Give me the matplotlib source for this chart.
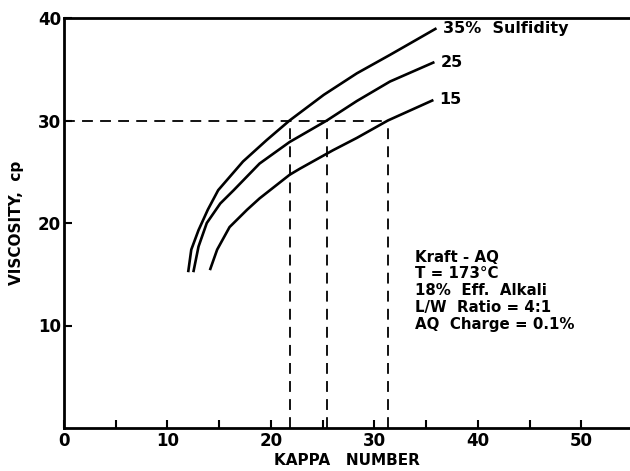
import matplotlib
matplotlib.use("Agg")
import matplotlib.pyplot as plt
from matplotlib.ticker import MultipleLocator

# Data
kappa_35 = [12.0, 12.3, 13.0, 13.9, 14.9, 17.3, 19.6, 21.8, 25.1, 28.3, 31.5, 34.1, 36.0]
visc_35 = [15.2, 17.4, 19.3, 21.3, 23.2, 26.0, 28.1, 30.0, 32.5, 34.6, 36.4, 37.9, 39.0]

kappa_25 = [12.5, 13.0, 13.8, 15.1, 16.4, 18.9, 21.8, 25.4, 28.3, 31.5, 35.8]
visc_25 = [15.2, 17.7, 20.0, 21.9, 23.2, 25.8, 27.9, 30.0, 31.9, 33.8, 35.7]

kappa_15 = [14.1, 14.8, 16.0, 17.7, 18.9, 21.8, 22.8, 26.0, 28.3, 31.3, 35.7]
visc_15 = [15.4, 17.4, 19.6, 21.3, 22.4, 24.7, 25.3, 27.1, 28.3, 30.0, 32.0]

curve_labels = ["35%  Sulfidity", "25", "15"]
target_viscosity = 30
target_kappas = [21.8, 25.4, 31.3]

x_ticks = [0, 10, 20, 30, 40, 50]
y_ticks = [10, 20, 30, 40]

conditions = ["Kraft - AQ", "T = 173°C", "18%  Eff.  Alkali",
              "L/W  Ratio = 4:1", "AQ  Charge = 0.1%"]

fig = plt.figure(figsize=(6.3, 4.71), dpi=100)
ax = fig.add_axes([64/630, 43/471, 1 - 64/630, (428-18)/471])
ax.set_xlim(0, 54.7)
ax.set_ylim(0, 40)

for xs, ys in [(kappa_35, visc_35), (kappa_25, visc_25), (kappa_15, visc_15)]:
    ax.plot(xs, ys, color="black", lw=1.9, solid_capstyle="butt",
            solid_joinstyle="round")

# dashed guide lines
ax.plot([0, max(target_kappas)], [target_viscosity]*2, color="black", lw=1.3,
        dashes=(6, 4))
for k in target_kappas:
    ax.plot([k, k], [0, target_viscosity], color="black", lw=1.3, dashes=(6, 4))

# curve labels
for lab, xs, ys in zip(curve_labels, [kappa_35, kappa_25, kappa_15],
                       [visc_35, visc_25, visc_15]):
    ax.text(xs[-1] + 0.6, ys[-1], lab, fontsize=11.5, fontweight="bold",
            ha="left", va="center")

ax.text(0.62, 0.435, "\n".join(conditions), transform=ax.transAxes,
        fontsize=10.8, fontweight="bold", ha="left", va="top", linespacing=1.15)

ax.spines["right"].set_visible(False)
for s in ["left", "bottom", "top"]:
    ax.spines[s].set_linewidth(2)

ax.set_xticks(x_ticks)
ax.xaxis.set_minor_locator(MultipleLocator(5))
ax.set_yticks(y_ticks)
ax.tick_params(axis="both", which="both", direction="in", length=6, width=1.5,
               labelsize=12)
ax.tick_params(axis="x", pad=3)
ax.tick_params(axis="y", pad=2)
for lab in ax.get_xticklabels() + ax.get_yticklabels():
    lab.set_fontweight("bold")

ax.set_xlabel("KAPPA   NUMBER", fontsize=11, fontweight="bold", labelpad=2)
ax.set_ylabel("VISCOSITY,  cp", fontsize=11, fontweight="bold", labelpad=10)

fig.savefig("out.png", dpi=100)
